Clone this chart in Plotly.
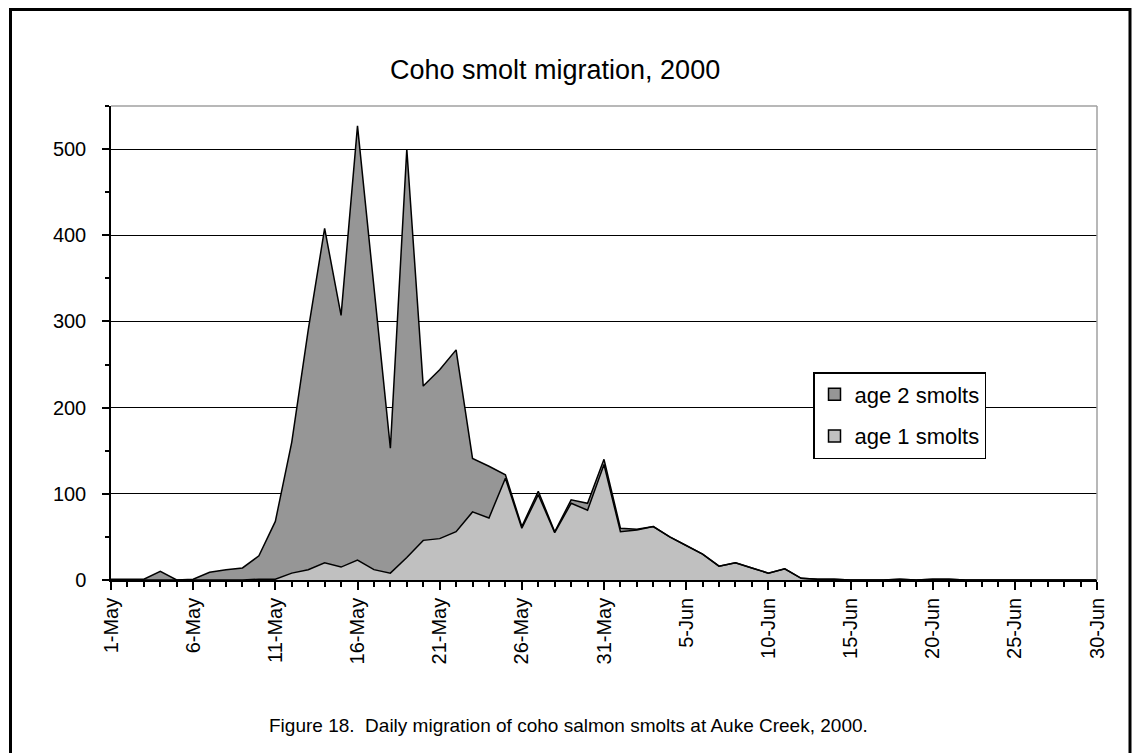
import plotly.graph_objects as go
import pandas as pd

dates = pd.date_range("2000-05-01", "2000-06-30", freq="D").strftime("%Y-%m-%d").tolist()

age1_smolts = [0, 0, 0, 0, 0, 0, 0, 0, 0, 1,
               1, 8, 12, 20, 15, 23, 12, 8, 26, 46,
               48, 56, 79, 72, 118, 60, 99, 55, 89, 81,
               134, 56, 58, 62, 50, 40, 30, 16, 20, 14,
               8, 13, 2, 1, 1, 0, 0, 0, 1, 0,
               1, 1, 0, 0, 0, 0, 0, 0, 0, 0, 0]
age2_smolts = [1, 1, 1, 10, 0, 1, 9, 12, 14, 27,
               67, 152, 278, 388, 292, 504, 328, 145, 474, 179,
               196, 211, 62, 60, 4, 2, 4, 1, 4, 8,
               6, 4, 1, 0, 0, 0, 0, 0, 0, 0,
               0, 0, 0, 0, 0, 0, 0, 0, 0, 0,
               0, 0, 0, 0, 0, 0, 0, 0, 0, 0, 0]

series_names = ["age 1 smolts", "age 2 smolts"]
series_colors = ["#c0c0c0", "#969696"]
title_text = "Coho smolt migration, 2000"
caption_text = "Figure 18.  Daily migration of coho salmon smolts at Auke Creek, 2000."
y_ticks = [0, 100, 200, 300, 400, 500]

FONT = "Liberation Sans, Arial, sans-serif"

fig = go.Figure()
fig.add_trace(go.Scatter(
    x=dates, y=age1_smolts, name=series_names[0], mode="lines",
    stackgroup="s", fill="tozeroy", fillcolor=series_colors[0],
    line=dict(color="black", width=1.5), hoverinfo="skip", showlegend=False))
fig.add_trace(go.Scatter(
    x=dates, y=age2_smolts, name=series_names[1], mode="lines",
    stackgroup="s", fill="tonexty", fillcolor=series_colors[1],
    line=dict(color="black", width=1.5), hoverinfo="skip", showlegend=False))

# legend swatches (square filled boxes as in the original)
for nm, col, grp in [(series_names[1], series_colors[1], "a"), (series_names[0], series_colors[0], "b")]:
    fig.add_trace(go.Bar(x=[None], y=[None], name=nm, legendgroup=grp,
                         marker=dict(color=col, line=dict(color="black", width=1.5)),
                         showlegend=True, hoverinfo="skip"))

L, R, T, B = 111, 1097, 106, 580
W, H = 1133, 753

def px(x):
    return (x - L) / (R - L)

def py(y):
    return (B - y) / (B - T)

fig.update_layout(
    width=W, height=H,
    margin=dict(l=L, r=W - R, t=T, b=H - B, pad=0),
    paper_bgcolor="white", plot_bgcolor="white",
    font=dict(family=FONT, size=18, color="black"),
    showlegend=True,
    legend=dict(x=px(813), y=py(372), xanchor="left", yanchor="top",
                bgcolor="white", bordercolor="black", borderwidth=1.5,
                traceorder="grouped", font=dict(size=22),
                tracegroupgap=10),
    xaxis=dict(
        type="date", range=["2000-05-01", "2000-06-30"],
        tickmode="linear", tick0="2000-05-01", dtick=5 * 86400000,
        tickformat="%-d-%b", tickangle=-90,
        ticks="outside", ticklen=8, tickwidth=1.5, tickcolor="black",
        showline=True, linecolor="black", linewidth=1.5,
        showgrid=False, zeroline=False,
        tickfont=dict(size=20),
        minor=dict(dtick=86400000, tick0="2000-05-01", ticks="outside",
                   ticklen=5, tickwidth=1.5, tickcolor="black", showgrid=False),
    ),
    yaxis=dict(
        range=[0, 550], tickvals=y_ticks,
        ticks="outside", ticklen=7, tickwidth=1.5, tickcolor="black",
        showline=True, linecolor="black", linewidth=1.5,
        showgrid=True, gridcolor="black", gridwidth=1.2,
        zeroline=False, tickfont=dict(size=20), ticklabelstandoff=12,
        minor=dict(dtick=50, ticks="outside", ticklen=4, tickwidth=1.5,
                   tickcolor="black", showgrid=False),
    ),
)

# gray top and right borders of plot area
fig.add_shape(type="line", xref="paper", yref="paper", x0=0, x1=1, y0=1, y1=1,
              line=dict(color="#a0a0a0", width=1.5), layer="above")
fig.add_shape(type="line", xref="paper", yref="paper", x0=1, x1=1, y0=0, y1=1,
              line=dict(color="#a0a0a0", width=1.5), layer="above")
# outer frame
fig.add_shape(type="rect", xref="paper", yref="paper",
              x0=px(10.5), x1=px(1130), y0=py(9.5), y1=py(770),
              line=dict(color="black", width=3), fillcolor="rgba(0,0,0,0)")

fig.add_annotation(text=title_text, xref="paper", yref="paper",
                   x=px(555), y=py(70), showarrow=False,
                   font=dict(size=27), xanchor="center", yanchor="middle")
fig.add_annotation(text=caption_text, xref="paper", yref="paper",
                   x=px(568), y=py(725), showarrow=False,
                   font=dict(size=19), xanchor="center", yanchor="middle")

fig.write_html("out.html", config={"displayModeBar": False},
               post_script="document.body.style.margin='0px';")
